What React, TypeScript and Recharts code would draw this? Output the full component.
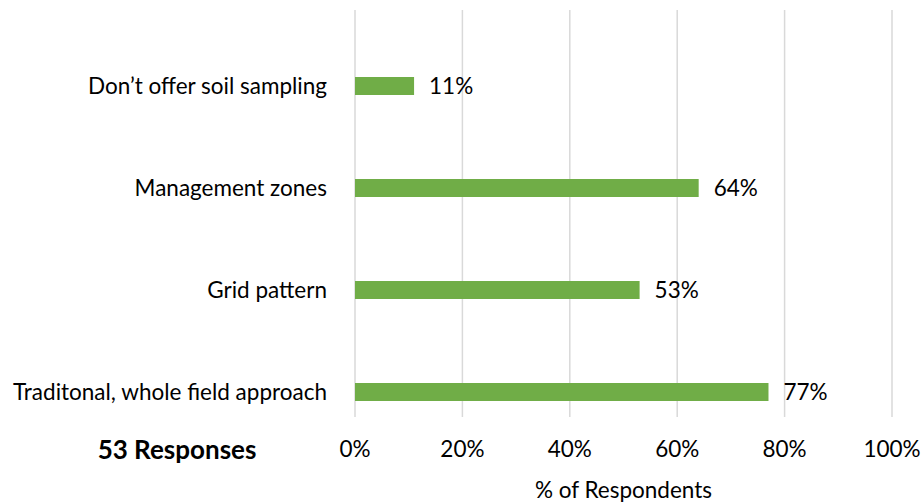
import { Bar, BarChart, CartesianGrid, LabelList, XAxis, YAxis } from "recharts";

const categories = [
  "Don\u2019t offer soil sampling",
  "Management zones",
  "Grid pattern",
  "Traditonal, whole field approach",
];
const shares = [11, 64, 53, 77];
const xTicks = [0, 20, 40, 60, 80, 100];

const data = categories.map((name, i) => ({ name, value: shares[i] }));

const font = "Lato, 'Open Sans', sans-serif";
const green = "#70AD47";
const textSize = 22.5;

// gridlines in the original stop one band-offset above the bars' plot area
const GridLine = (props: any) => (
  <line
    x1={props.x1}
    x2={props.x2}
    y1={props.y1 - 25}
    y2={props.y2 - 26}
    stroke="#D9D9D9"
    strokeWidth={1.5}
  />
);

export default function App() {
  return (
    <div style={{ position: "absolute", left: 0, top: 0, width: 921, height: 502, fontFamily: font }}>
      <BarChart
        width={921}
        height={502}
        data={data}
        layout="vertical"
        margin={{ top: 35, right: 29, bottom: 0, left: 0 }}
      >
        <CartesianGrid horizontal={false} vertical={GridLine} />
        <XAxis
          type="number"
          domain={[0, 100]}
          ticks={xTicks}
          tickFormatter={(v) => `${v}%`}
          axisLine={false}
          tickLine={false}
          tickSize={0}
          tickMargin={-2}
          height={59}
          tick={{ fill: "#000", fontSize: textSize, fontFamily: font }}
          label={{
            value: "% of Respondents",
            position: "insideBottom",
            offset: 4,
            fill: "#000",
            fontSize: textSize,
            fontFamily: font,
          }}
        />
        <YAxis
          type="category"
          dataKey="name"
          width={355}
          axisLine={false}
          tickLine={false}
          tickSize={0}
          tickMargin={28}
          tick={{ fill: "#000", fontSize: textSize, fontFamily: font }}
        />
        <Bar dataKey="value" fill={green} barSize={18} isAnimationActive={false}>
          <LabelList
            dataKey="value"
            position="right"
            offset={15}
            formatter={(v: any) => `${v}%`}
            style={{ fill: "#000", fontSize: textSize, fontFamily: font }}
          />
        </Bar>
      </BarChart>
      <div
        style={{
          position: "absolute",
          left: 77,
          top: 433,
          width: 200,
          textAlign: "center",
          fontWeight: "bold",
          fontSize: 26,
          lineHeight: "32px",
          color: "#000",
        }}
      >
        53 Responses
      </div>
    </div>
  );
}
